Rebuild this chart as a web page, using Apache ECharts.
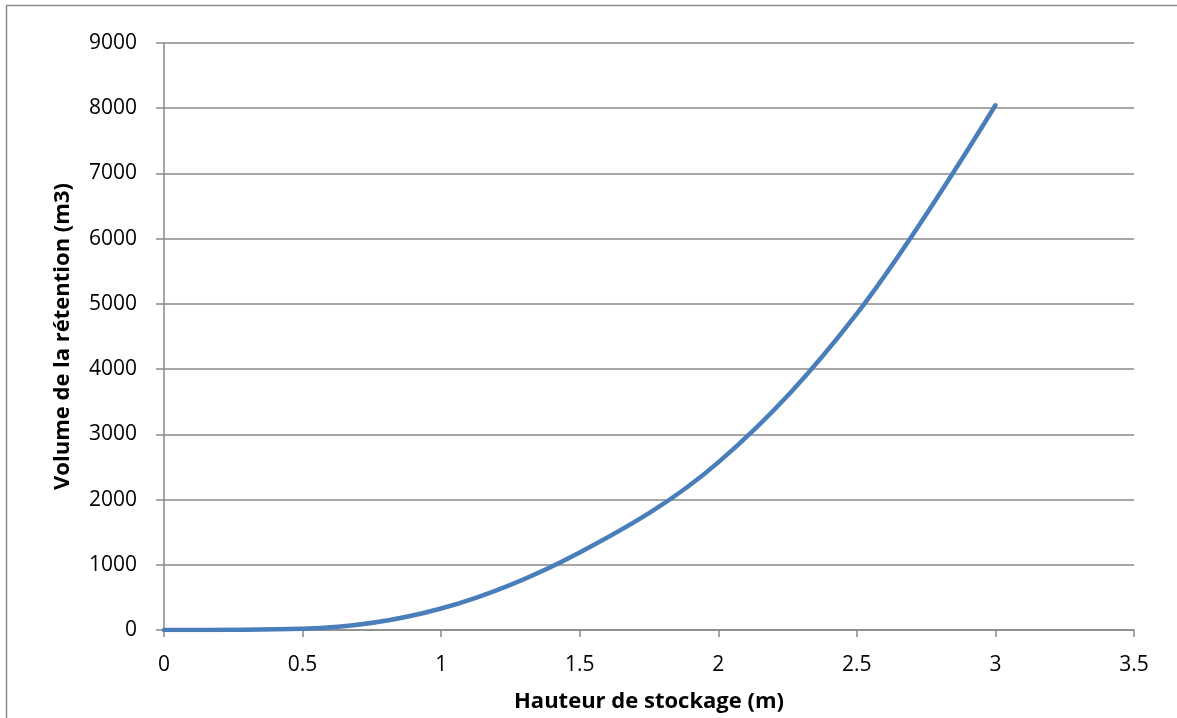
<!DOCTYPE html>
<html>
<head>
<meta charset="utf-8">
<script src="https://cdn.jsdelivr.net/npm/echarts@6/dist/echarts.min.js"></script>
<style>
html,body{margin:0;padding:0;background:#fff;}
#chart{width:1177px;height:718px;}
</style>
</head>
<body>
<div id="chart"></div>
<script>
// Hauteur de stockage (m)
const heights = [0, 0.5, 1, 1.5, 2, 2.5, 3];
// Volume de la rétention (m3)
const volumes = [0, 20, 330, 1190, 2570, 4850, 8045];
const xTitle = 'Hauteur de stockage (m)';
const yTitle = 'Volume de la rétention (m3)';

const chart = echarts.init(document.getElementById('chart'));
const FONT = '"Open Sans", sans-serif';
const gridColor = '#8a8a8a';
chart.setOption({
  animation: false,
  graphic: [{
    type: 'rect',
    shape: {x: 6.5, y: 5.5, width: 1300, height: 900},
    style: {fill: 'none', stroke: '#8c8c8c', lineWidth: 1.5},
    silent: true
  }],
  grid: {left: 164, right: 43, top: 43, bottom: 87},
  xAxis: {
    type: 'value', min: 0, max: 3.5, interval: 0.5,
    name: xTitle, nameLocation: 'middle', nameGap: 61,
    nameTextStyle: {fontFamily: FONT, fontWeight: 'bold', fontSize: 22, color: '#000'},
    axisLine: {show: true, lineStyle: {color: gridColor, width: 1.5}},
    axisTick: {show: true, length: 7, inside: false, lineStyle: {color: gridColor, width: 1.5}},
    axisLabel: {fontFamily: FONT, fontSize: 21, color: '#000', margin: 25,
      formatter: v => String(v)},
    splitLine: {show: false}
  },
  yAxis: {
    type: 'value', min: 0, max: 9000, interval: 1000,
    name: yTitle, nameLocation: 'middle', nameGap: 90, nameRotate: 90,
    nameTextStyle: {fontFamily: FONT, fontWeight: 'bold', fontSize: 22, color: '#000'},
    axisLine: {show: true, lineStyle: {color: gridColor, width: 1.5}},
    axisTick: {show: true, length: 8, inside: false, lineStyle: {color: gridColor, width: 1.5}},
    axisLabel: {fontFamily: FONT, fontSize: 21, color: '#000', margin: 27,
      formatter: v => String(v)},
    splitLine: {show: true, lineStyle: {color: gridColor, width: 1.5}}
  },
  series: [{
    type: 'line',
    data: heights.map((h, i) => [h, volumes[i]]),
    smooth: 0.35,
    showSymbol: false,
    lineStyle: {color: '#4a7ebb', width: 4.5, cap: 'round'},
    itemStyle: {color: '#4a7ebb'}
  }]
});
</script>
</body>
</html>
